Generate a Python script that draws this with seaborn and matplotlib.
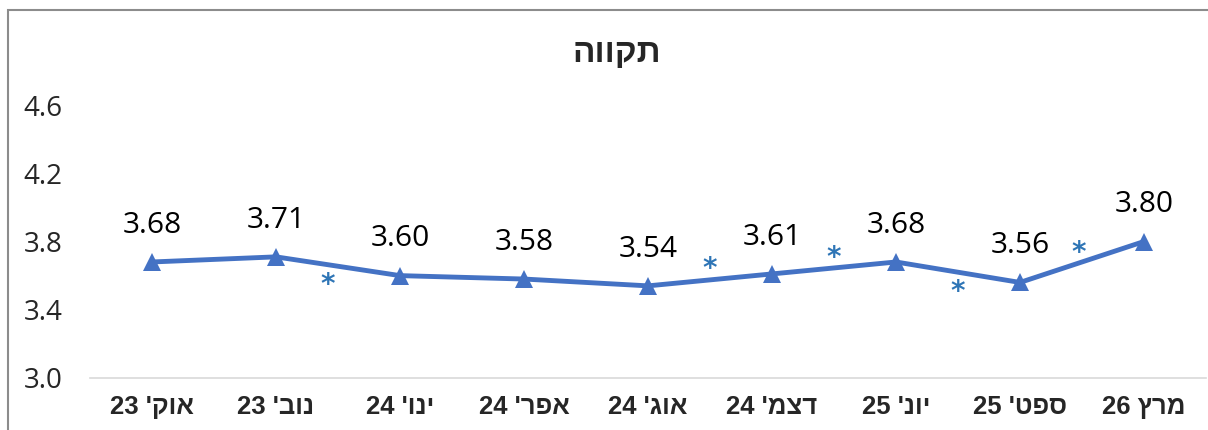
import numpy as np
import pandas as pd
import matplotlib
matplotlib.use("Agg")
import matplotlib.pyplot as plt
from matplotlib.patches import Rectangle
import seaborn as sns

# data
months = ["אוק' 23", "נוב' 23", "ינו' 24", "אפר' 24", "אוג' 24",
          "דצמ' 24", "יונ' 25", "ספט' 25", "מרץ 26"]
values = [3.68, 3.71, 3.60, 3.58, 3.54, 3.61, 3.68, 3.56, 3.80]
# significant change markers: x position between points and side of the line
sig_x = [1.42, 4.5, 5.5, 6.5, 7.47]
sig_side = [-1, 1, 1, -1, 1]
title = "תקווה"
y_ticks = [3.0, 3.4, 3.8, 4.2, 4.6]


def visual(s):
    # matplotlib has no bidi support, so put RTL words in display order
    words = s.split(" ")
    out = []
    for w in reversed(words):
        if any("\u0590" <= c <= "\u05ff" for c in w):
            out.append(w[::-1])
        else:
            out.append(w)
    return " ".join(out)


sns.set_theme(style="white")
plt.rcParams["font.family"] = ["Open Sans", "Liberation Sans", "DejaVu Sans"]

blue = "#4472C4"
star_blue = "#2E75B6"

pos = np.arange(len(months))
df = pd.DataFrame({"pos": pos, "value": values})

fig = plt.figure(figsize=(12.08, 4.30), dpi=100)
ax = fig.add_axes([90 / 1208, 1 - 378 / 430, 1116 / 1208, 273 / 430])

sns.lineplot(data=df, x="pos", y="value", ax=ax, color=blue, linewidth=3.5,
             marker="^", markersize=13, markeredgewidth=0, markerfacecolor=blue)

# value labels above points
for i, v in enumerate(values):
    ax.annotate(f"{v:.2f}", (i, v), xytext=(0, 21), textcoords="offset points",
                ha="center", va="baseline", fontsize=21.5, color="black",
                family=["Open Sans", "DejaVu Sans"])

# asterisks next to the line segment
for x, side in zip(sig_x, sig_side):
    y = np.interp(x, pos, values)
    ax.annotate("*", (x, y), xytext=(0, 11 * side - 3.5), textcoords="offset points",
                ha="center", va="center", fontsize=20, fontweight="bold", color=star_blue,
                family=["DejaVu Sans"])

ax.set_xlim(-0.5, len(months) - 0.5)
ax.set_ylim(y_ticks[0], y_ticks[-1])
ax.set_yticks(y_ticks)
ax.set_yticklabels([f"{t:.1f}" for t in y_ticks], fontsize=20)
ax.set_xticks(pos)
ax.set_xticklabels([visual(m) for m in months], fontsize=18.5, fontweight="bold",
                   family=["Liberation Sans", "DejaVu Sans"])
ax.tick_params(axis="x", length=0, pad=12)
ax.tick_params(axis="y", length=0, pad=20)
ax.set_xlabel("")
ax.set_ylabel("")
for s in ["top", "right", "left"]:
    ax.spines[s].set_visible(False)
ax.spines["bottom"].set_color("#D9D9D9")
ax.spines["bottom"].set_linewidth(1.2)
ax.grid(False)

fig.text(617 / 1208, 1 - 53 / 430, visual(title), ha="center", va="center",
         fontsize=24, fontweight="bold", family=["Liberation Sans", "DejaVu Sans"])

# chart frame, only the top and left edges show in the crop
fig.patches.append(Rectangle((8 / 1208, -0.1), 1.2, 1 - 10 / 430 + 0.1,
                             transform=fig.transFigure, fill=False,
                             edgecolor="#8C8C8C", linewidth=1.5))

fig.savefig("out.png", dpi=100)
